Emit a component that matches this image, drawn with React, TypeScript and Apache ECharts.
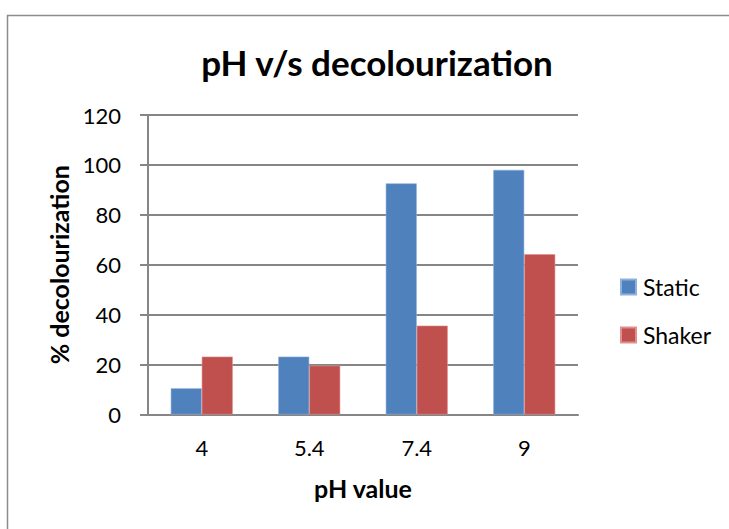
import React, { useEffect, useRef } from "react";
import * as echarts from "echarts";

const categories = ["4", "5.4", "7.4", "9"];
const staticValues = [10.5, 23.2, 92.6, 98.0];
const shakerValues = [23.2, 19.6, 35.6, 64.2];
const yTicks = { min: 0, max: 120, interval: 20 };

const FONT = "Lato, 'Open Sans', sans-serif";

export default function App() {
  const ref = useRef<HTMLDivElement>(null);
  useEffect(() => {
    if (!ref.current) return;
    const chart = echarts.init(ref.current, undefined, { renderer: "svg" });
    chart.setOption({
      animation: false,
      backgroundColor: "#ffffff",
      textStyle: { fontFamily: FONT },
      graphic: [
        {
          type: "rect",
          shape: { x: 7.5, y: 15.5, width: 800, height: 700 },
          style: { fill: "none", stroke: "#8c8c8c", lineWidth: 1.5 },
          silent: true,
        },
      ],
      title: {
        text: "pH v/s decolourization",
        left: 372,
        top: 39,
        textAlign: "center",
        textStyle: { fontFamily: FONT, fontWeight: "bold", fontSize: 35, color: "#000" },
      },
      legend: {
        orient: "vertical",
        left: 615,
        top: 270,
        itemWidth: 15,
        itemHeight: 15,
        itemGap: 24,
        icon: "rect",
        textStyle: { fontFamily: FONT, fontSize: 23, lineHeight: 24, color: "#000", padding: [0, 0, 0, 2] },
        data: ["Static", "Shaker"],
      },
      grid: { left: 148, right: 151, top: 115, bottom: 114.5, containLabel: false },
      xAxis: {
        type: "category",
        data: categories,
        name: "pH value",
        nameLocation: "middle",
        nameGap: 61,
        nameTextStyle: { fontFamily: FONT, fontWeight: "bold", fontSize: 25, color: "#000" },
        axisLine: { lineStyle: { color: "#868686", width: 2 } },
        axisTick: { show: false },
        axisLabel: { fontFamily: FONT, fontSize: 22, color: "#000", margin: 22 },
      },
      yAxis: {
        type: "value",
        min: yTicks.min,
        max: yTicks.max,
        interval: yTicks.interval,
        name: "% decolourization",
        nameLocation: "middle",
        nameGap: 59,
        nameTextStyle: { fontFamily: FONT, fontWeight: "bold", fontSize: 25, color: "#000" },
        axisLine: { show: true, lineStyle: { color: "#868686", width: 2 } },
        axisTick: { show: true, length: 8, lineStyle: { color: "#868686", width: 2 } },
        axisLabel: { fontFamily: FONT, fontSize: 22, color: "#000", margin: 27 },
        splitLine: { lineStyle: { color: "#868686", width: 2 } },
      },
      series: [
        {
          name: "Static",
          type: "bar",
          data: staticValues,
          barWidth: 31,
          barGap: "0%",
          itemStyle: { color: "#4F81BD", borderColor: "#8fb0dc", borderWidth: 0.6 },
        },
        {
          name: "Shaker",
          type: "bar",
          data: shakerValues,
          barWidth: 31,
          barGap: "0%",
          itemStyle: { color: "#C0504D", borderColor: "#e08f8d", borderWidth: 0.6 },
        },
      ],
    });
    return () => chart.dispose();
  }, []);
  return (
    <div
      ref={ref}
      style={{ position: "fixed", left: 0, top: 0, width: 729, height: 529 }}
    />
  );
}
